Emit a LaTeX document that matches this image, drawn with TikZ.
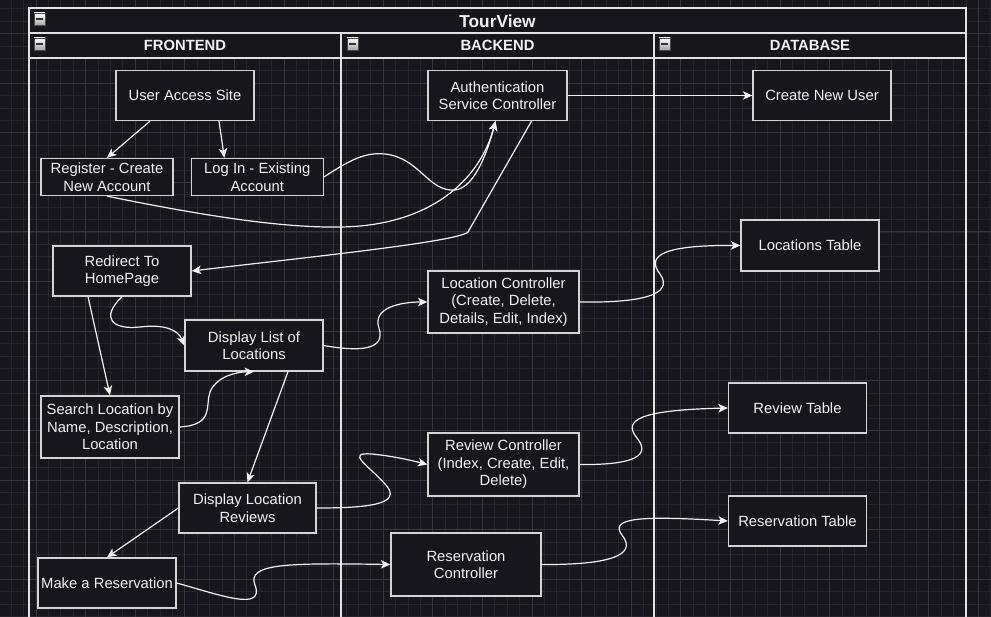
\documentclass[tikz,border=0pt]{standalone}
\usepackage{fontspec}
\setmainfont{Liberation Sans}
\usetikzlibrary{arrows.meta,positioning}
\definecolor{bgcol}{RGB}{24,22,29}
\definecolor{gridminor}{RGB}{38,36,44}
\definecolor{gridmajor}{RGB}{56,54,62}
\definecolor{boxline}{RGB}{212,212,212}
\definecolor{laneline}{RGB}{226,226,226}
\definecolor{fg}{RGB}{242,242,242}
\tikzset{>={Stealth[length=9.5pt,width=8.5pt,inset=2.5pt]},auto}
\tikzset{
  box/.style={draw=boxline,fill=bgcol,text=fg,line width=1.3pt,align=center,
    inner sep=2pt,minimum width=138pt,minimum height=50pt,
    font=\fontsize{14.8}{17.5}\selectfont},
  head/.style={text=fg,font=\bfseries\fontsize{14.8}{17}\selectfont},
  flow/.style={->,draw=fg,line width=1.2pt},
  lane/.style={draw=laneline,line width=1.8pt},
  minus/.style={draw=gray!60!black,top color=white,bottom color=gray!70,line width=0.6pt}
}

\begin{document}
\begin{tikzpicture}[x=1pt,y=-1pt]
    \useasboundingbox (0,0) rectangle (991,617);
    \clip (0,0) rectangle (991,617);
    \fill[bgcol] (0,0) rectangle (991,617);
    % grid
    \foreach \i in {0,...,80}
        \draw[gridminor,line width=0.7pt] ({-1.3+12.4*\i},0) -- ({-1.3+12.4*\i},617);
    \foreach \j in {0,...,50}
        \draw[gridminor,line width=0.7pt] (0,{-3.7+12.4*\j}) -- (991,{-3.7+12.4*\j});
    \foreach \i in {0,...,20}
        \draw[gridmajor,line width=0.8pt] ({-13.7+49.6*\i},0) -- ({-13.7+49.6*\i},617);
    \foreach \j in {0,...,13}
        \draw[gridmajor,line width=0.8pt] (0,{-16.1+49.6*\j}) -- (991,{-16.1+49.6*\j});

    % pool and lanes
    \fill[bgcol] (29,8) rectangle (966,58);
    \draw[lane] (29,625) -- (29,8) -- (966,8) -- (966,625);
    \draw[lane] (29,33) -- (966,33);
    \draw[lane] (29,58) -- (966,58);
    \draw[lane] (341,33) -- (341,625);
    \draw[lane] (654,33) -- (654,625);
    \foreach \x/\y in {34/13, 34/38, 347/38, 659/38} {
        \draw[minus] (\x,\y) rectangle ++(11,12);
        \draw[black!80,line width=2pt] (\x+1.8,\y+6) -- ++(7.4,0);
    }
    \node[head,font=\bfseries\fontsize{17.3}{19}\selectfont] (title) at (497.5,21) {TourView};
    \node[head] (front) at (185,45.5) {FRONTEND};
    \node[head] (back) at (497.5,45.5) {BACKEND};
    \node[head] (data) at (810,45.5) {DATABASE};

    % frontend
    \node[box] (user) at (185,95.5) {User Access Site};
    \node[box,minimum width=132pt,minimum height=37pt] (register) at (107,177) {Register - Create\\New Account};
    \node[box,minimum width=132pt,minimum height=37pt] (login) [right=17pt of register] {Log In - Existing\\Account};
    \node[box] (redirect) at (122,271) {Redirect To\\HomePage};
    \node[box,minimum height=51pt] (displaylist) at (254,345.5) {Display List of\\Locations};
    \node[box,minimum height=62pt] (search) at (110,427) {Search Location by\\Name, Description,\\Location};
    \node[box,minimum width=137pt] (reviews) at (247.5,508) {Display Location\\Reviews};
    \node[box] (reserve) at (107,583) {Make a Reservation};

    % backend
    \node[box,minimum width=139pt] (auth) at (497.5,95.5) {Authentication\\Service Controller};
    \node[box,minimum width=151pt,minimum height=62pt] (locctrl) at (503.5,302) {Location Controller\\(Create, Delete,\\Details, Edit, Index)};
    \node[box,minimum width=151pt,minimum height=63pt] (revctrl) at (503.5,464.5) {Review Controller\\(Index, Create, Edit,\\Delete)};
    \node[box,minimum width=150pt,minimum height=63pt] (resctrl) at (466,564.5) {Reservation\\Controller};

    % database
    \node[box] (newuser) at (822,95.5) {Create New User};
    \node[box,minimum height=51pt] (loctable) at (810,245.5) {Locations Table};
    \node[box] (revtable) at (797.5,408) {Review Table};
    \node[box] (restable) at (797.5,521) {Reservation Table};

    % connectors
    \draw[flow] ([xshift=-35pt]user.south) -- (register.north);
    \draw[flow] ([xshift=34pt]user.south) -- ([xshift=-33pt]login.north);
    \draw[flow] (register.south) .. controls (200,215) and (280,228) .. (340,227)
        .. controls (430,226) and (480,180) .. ([xshift=-2pt]auth.south);
    \draw[flow] (login.east) .. controls (350,160) and (365,152) .. (385,154)
        .. controls (420,158) and (428,192) .. (455,190)
        .. controls (475,188) and (488,150) .. ([xshift=-2pt]auth.south);
    \draw[flow] (auth.east) -- (newuser.west);
    \draw[flow] ([xshift=34pt]auth.south) -- (468,232) .. controls (458,242) and (300,258) .. (redirect.east);
    \draw[flow] ([xshift=-34pt]redirect.south) -- (search.north);
    \draw[flow] (redirect.south) .. controls (100,318) and (112,330) .. (140,327)
        .. controls (165,324) and (178,330) .. (displaylist.west);
    \draw[flow] (search.east) .. controls (215,425) and (205,405) .. (210,392)
        .. controls (216,377) and (235,372) .. (displaylist.south);
    \draw[flow] ([xshift=34pt]displaylist.south) -- (reviews.north);
    \draw[flow] (displaylist.east) .. controls (360,352) and (386,350) .. (379,328)
        .. controls (372,308) and (400,302) .. (locctrl.west);
    \draw[flow] (locctrl.east) .. controls (640,303) and (675,295) .. (660,274)
        .. controls (645,255) and (665,245) .. (loctable.west);
    \draw[flow] (reviews.east) .. controls (365,508) and (405,505) .. (385,484)
        .. controls (368,465) and (345,452) .. (372,454)
        .. controls (392,456) and (410,460) .. (revctrl.west);
    \draw[flow] (revctrl.east) .. controls (620,465) and (655,460) .. (637,438)
        .. controls (622,420) and (640,410) .. (revtable.west);
    \draw[flow] (reviews.west) -- (reserve.north);
    \draw[flow] (reserve.east) .. controls (220,595) and (265,612) .. (255,585)
        .. controls (246,563) and (290,563) .. (resctrl.west);
    \draw[flow] (resctrl.east) .. controls (610,565) and (638,555) .. (622,535)
        .. controls (608,517) and (645,516) .. (restable.west);
\end{tikzpicture}
\end{document}
